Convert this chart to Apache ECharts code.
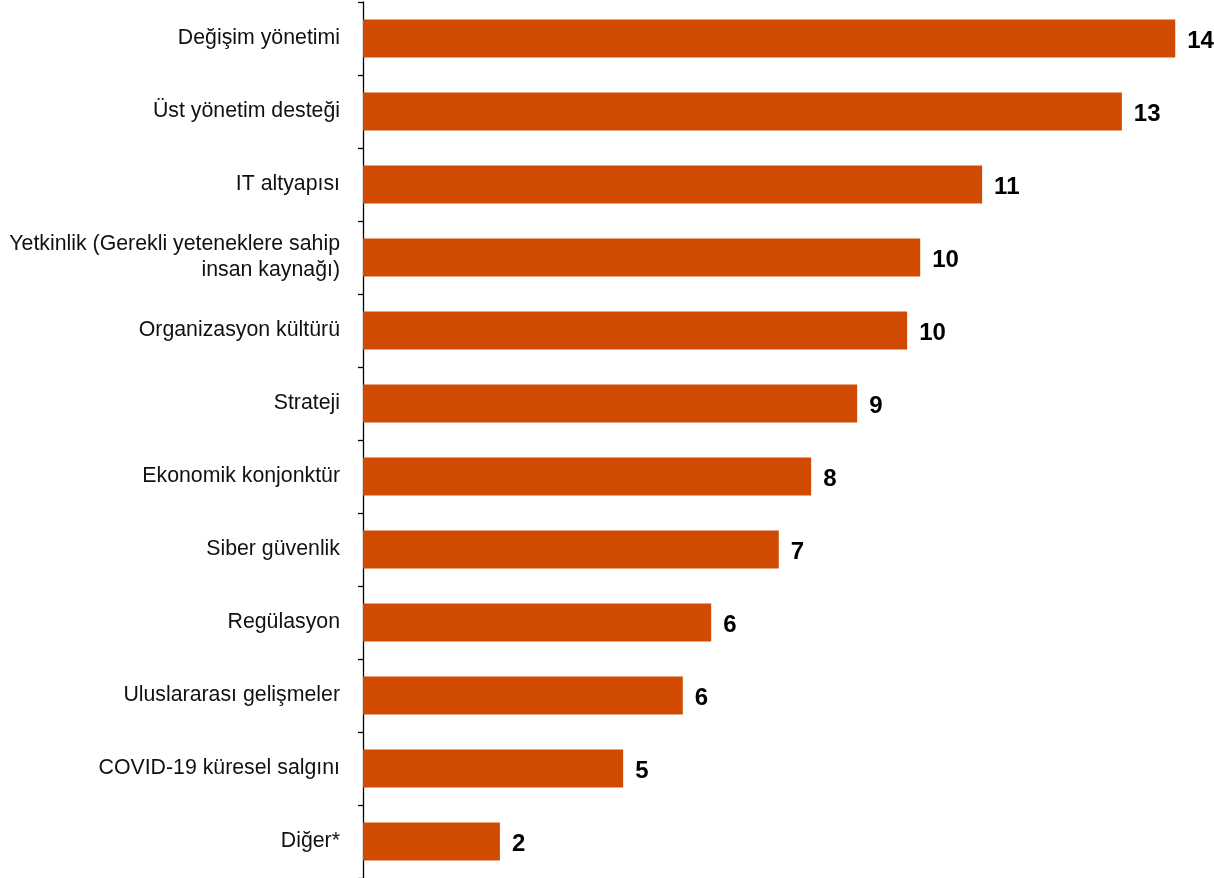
<!DOCTYPE html>
<html>
<head>
<meta charset="utf-8">
<script src="https://cdn.jsdelivr.net/npm/echarts@6/dist/echarts.min.js"></script>
<style>
  html, body { margin: 0; padding: 0; background: #ffffff; }
  #chart { width: 1214px; height: 878px; }
</style>
</head>
<body>
<div id="chart"></div>
<script>
// Categories, top to bottom
const categories = [
  'Değişim yönetimi',
  'Üst yönetim desteği',
  'IT altyapısı',
  'Yetkinlik (Gerekli yeteneklere sahip\ninsan kaynağı)',
  'Organizasyon kültürü',
  'Strateji',
  'Ekonomik konjonktür',
  'Siber güvenlik',
  'Regülasyon',
  'Uluslararası gelişmeler',
  'COVID-19 küresel salgını',
  'Diğer*'
];

// Share of responses (%), shown rounded to whole numbers
const values = [14.30, 13.36, 10.90, 9.81, 9.58, 8.70, 7.89, 7.32, 6.13, 5.63, 4.58, 2.41];

const barColor = '#D04A02';
const fontFamily = '"Liberation Sans", Arial, sans-serif';

const chart = echarts.init(document.getElementById('chart'));
chart.setOption({
  animation: false,
  backgroundColor: '#ffffff',
  grid: { left: 363, top: 2, bottom: 0, width: 823.6, containLabel: false },
  xAxis: {
    type: 'value',
    min: 0,
    max: 14.5,
    show: false
  },
  yAxis: {
    type: 'category',
    inverse: true,
    data: categories,
    axisLine: { show: true, lineStyle: { color: '#000000', width: 1.3 } },
    axisTick: { show: true, length: 5, lineStyle: { color: '#000000', width: 1.3 } },
    axisLabel: {
      margin: 23,
      color: '#111111',
      fontFamily: fontFamily,
      fontSize: 21.3,
      lineHeight: 26,
      padding: [6, 0, 0, 0],
      align: 'right'
    },
    splitLine: { show: false }
  },
  series: [{
    type: 'bar',
    data: values,
    barWidth: 38,
    itemStyle: { color: barColor },
    label: {
      show: true,
      position: 'right',
      distance: 12,
      offset: [0, 3],
      color: '#000000',
      fontFamily: fontFamily,
      fontWeight: 'bold',
      fontSize: 24,
      formatter: p => Math.round(p.value).toString()
    }
  }]
});
</script>
</body>
</html>
